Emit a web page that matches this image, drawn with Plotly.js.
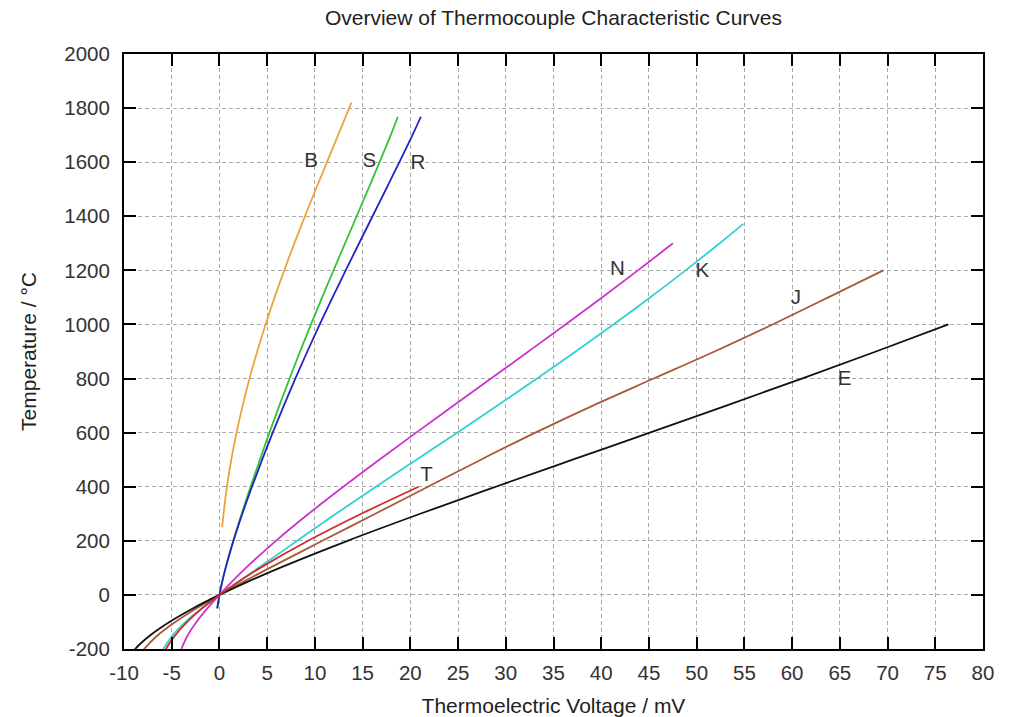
<!DOCTYPE html>
<html>
<head>
<meta charset="utf-8">
<script src="https://cdn.plot.ly/plotly-3.0.1.min.js"></script>
<style>html,body{margin:0;padding:0;background:#fff;}#chart{width:1010px;height:717px;}</style>
</head>
<body>
<div id="chart"></div>
<script>
// Type B
const bTemp = [250, 300, 400, 500, 600, 700, 800, 900, 1000, 1100, 1200, 1300, 1400, 1500, 1600, 1700, 1800, 1820];
const bVolt = [0.291, 0.431, 0.787, 1.242, 1.792, 2.431, 3.154, 3.957, 4.834, 5.780, 6.786, 7.848, 8.956, 10.099, 11.263, 12.433, 13.591, 13.820];
// Type S
const sTemp = [-50, 0, 50, 100, 200, 300, 400, 500, 600, 700, 800, 900, 1000, 1100, 1200, 1300, 1400, 1500, 1600, 1700, 1768];
const sVolt = [-0.236, 0, 0.299, 0.646, 1.441, 2.323, 3.259, 4.233, 5.239, 6.275, 7.345, 8.449, 9.587, 10.757, 11.951, 13.159, 14.373, 15.582, 16.777, 17.947, 18.693];
// Type R
const rTemp = [-50, 0, 50, 100, 200, 300, 400, 500, 600, 700, 800, 900, 1000, 1100, 1200, 1300, 1400, 1500, 1600, 1700, 1768];
const rVolt = [-0.226, 0, 0.296, 0.647, 1.469, 2.401, 3.408, 4.471, 5.583, 6.743, 7.950, 9.205, 10.506, 11.850, 13.228, 14.629, 16.040, 17.451, 18.849, 20.222, 21.101];
// Type N
const nTemp = [-200, -150, -100, -50, 0, 50, 100, 200, 300, 400, 500, 600, 700, 800, 900, 1000, 1100, 1200, 1300];
const nVolt = [-3.990, -3.336, -2.407, -1.269, 0, 1.340, 2.774, 5.913, 9.341, 12.974, 16.748, 20.613, 24.527, 28.455, 32.371, 36.256, 40.087, 43.846, 47.513];
// Type K
const kTemp = [-200, -150, -100, -50, 0, 50, 100, 200, 300, 400, 500, 600, 700, 800, 900, 1000, 1100, 1200, 1300, 1372];
const kVolt = [-5.891, -4.913, -3.554, -1.889, 0, 2.023, 4.096, 8.138, 12.209, 16.397, 20.644, 24.905, 29.129, 33.275, 37.326, 41.276, 45.119, 48.838, 52.410, 54.886];
// Type J
const jTemp = [-210, -200, -150, -100, -50, 0, 50, 100, 200, 300, 400, 500, 600, 700, 800, 900, 1000, 1100, 1200];
const jVolt = [-8.095, -7.890, -6.500, -4.633, -2.431, 0, 2.585, 5.269, 10.779, 16.327, 21.848, 27.393, 33.102, 39.132, 45.494, 51.877, 57.953, 63.792, 69.553];
// Type E
const eTemp = [-270, -250, -200, -150, -100, -50, 0, 50, 100, 200, 300, 400, 500, 600, 700, 800, 900, 1000];
const eVolt = [-9.835, -9.718, -8.825, -7.279, -5.237, -2.787, 0, 3.048, 6.319, 13.421, 21.036, 28.946, 36.999, 45.093, 53.112, 61.017, 68.787, 76.373];
// Type T
const tTemp = [-270, -250, -200, -150, -100, -50, 0, 50, 100, 200, 300, 400];
const tVolt = [-6.258, -6.180, -5.603, -4.648, -3.379, -1.819, 0, 2.036, 4.279, 9.288, 14.862, 20.872];

// curve labels
const labelText = ['B', 'S', 'R', 'N', 'K', 'J', 'E', 'T'];
const labelX = [9.6, 15.7, 20.8, 41.7, 50.6, 60.4, 65.5, 21.7];
const labelY = [1600, 1600, 1595, 1200, 1195, 1095, 795, 440];

// tick labels
const xTickVals = [-10, -5, 0, 5, 10, 15, 20, 25, 30, 35, 40, 45, 50, 55, 60, 65, 70, 75, 80];
const xTickText = ['-10', '-5', '0', '5', '10', '15', '20', '25', '30', '35', '40', '45', '50', '55', '60', '65', '70', '75', '80'];
const yTickVals = [-200, 0, 200, 400, 600, 800, 1000, 1200, 1400, 1600, 1800, 2000];
const yTickText = ['-200', '0', '200', '400', '600', '800', '1000', '1200', '1400', '1600', '1800', '2000'];

const series = [
  {x: bVolt, y: bTemp, c: '#eba43a'},
  {x: sVolt, y: sTemp, c: '#33c433'},
  {x: rVolt, y: rTemp, c: '#2424c4'},
  {x: nVolt, y: nTemp, c: '#cc33cc'},
  {x: kVolt, y: kTemp, c: '#33d0d0'},
  {x: jVolt, y: jTemp, c: '#a9583a'},
  {x: eVolt, y: eTemp, c: '#111111'},
  {x: tVolt, y: tTemp, c: '#d02a2a'}
];

const FONT = 'Liberation Sans, Arial, sans-serif';

const traces = series.map(s => ({
  type: 'scatter', mode: 'lines', x: s.x, y: s.y,
  line: {color: s.c, width: 1.8, shape: 'spline'}, hoverinfo: 'skip', showlegend: false
}));
traces.push({
  type: 'scatter', mode: 'text', x: labelX, y: labelY, text: labelText,
  textfont: {family: FONT, size: 20.5, color: '#333'},
  hoverinfo: 'skip', showlegend: false
});

const axisCommon = {
  showline: true, mirror: 'ticks', linecolor: '#000', linewidth: 2,
  ticks: 'inside', ticklen: 12, tickwidth: 2, tickcolor: '#000',
  showgrid: true, gridcolor: '#a8a8a8', gridwidth: 1, griddash: '4px,3px',
  zeroline: false,
  tickmode: 'array',
  tickfont: {family: FONT, size: 20.5, color: '#333'}
};

const layout = {
  width: 1010, height: 717,
  margin: {l: 124, r: 27, t: 54, b: 68},
  paper_bgcolor: '#fff', plot_bgcolor: '#fff',
  title: {text: 'Overview of Thermocouple Characteristic Curves', x: 0.548, xanchor: 'center', y: 0.975, yanchor: 'middle',
    font: {family: FONT, size: 21, color: '#222'}},
  xaxis: Object.assign({}, axisCommon, {
    range: [-10, 80], tickvals: xTickVals, ticktext: xTickText,
    ticklabelstandoff: 4,
    title: {text: 'Thermoelectric Voltage / mV', standoff: 16,
      font: {family: FONT, size: 21, color: '#222'}}
  }),
  yaxis: Object.assign({}, axisCommon, {
    range: [-200, 2000], tickvals: yTickVals, ticktext: yTickText,
    ticklabelstandoff: 8,
    title: {text: 'Temperature / °C', standoff: 22,
      font: {family: FONT, size: 21, color: '#222'}}
  })
};

Plotly.newPlot('chart', traces, layout, {displayModeBar: false, staticPlot: true});
</script>
</body>
</html>
